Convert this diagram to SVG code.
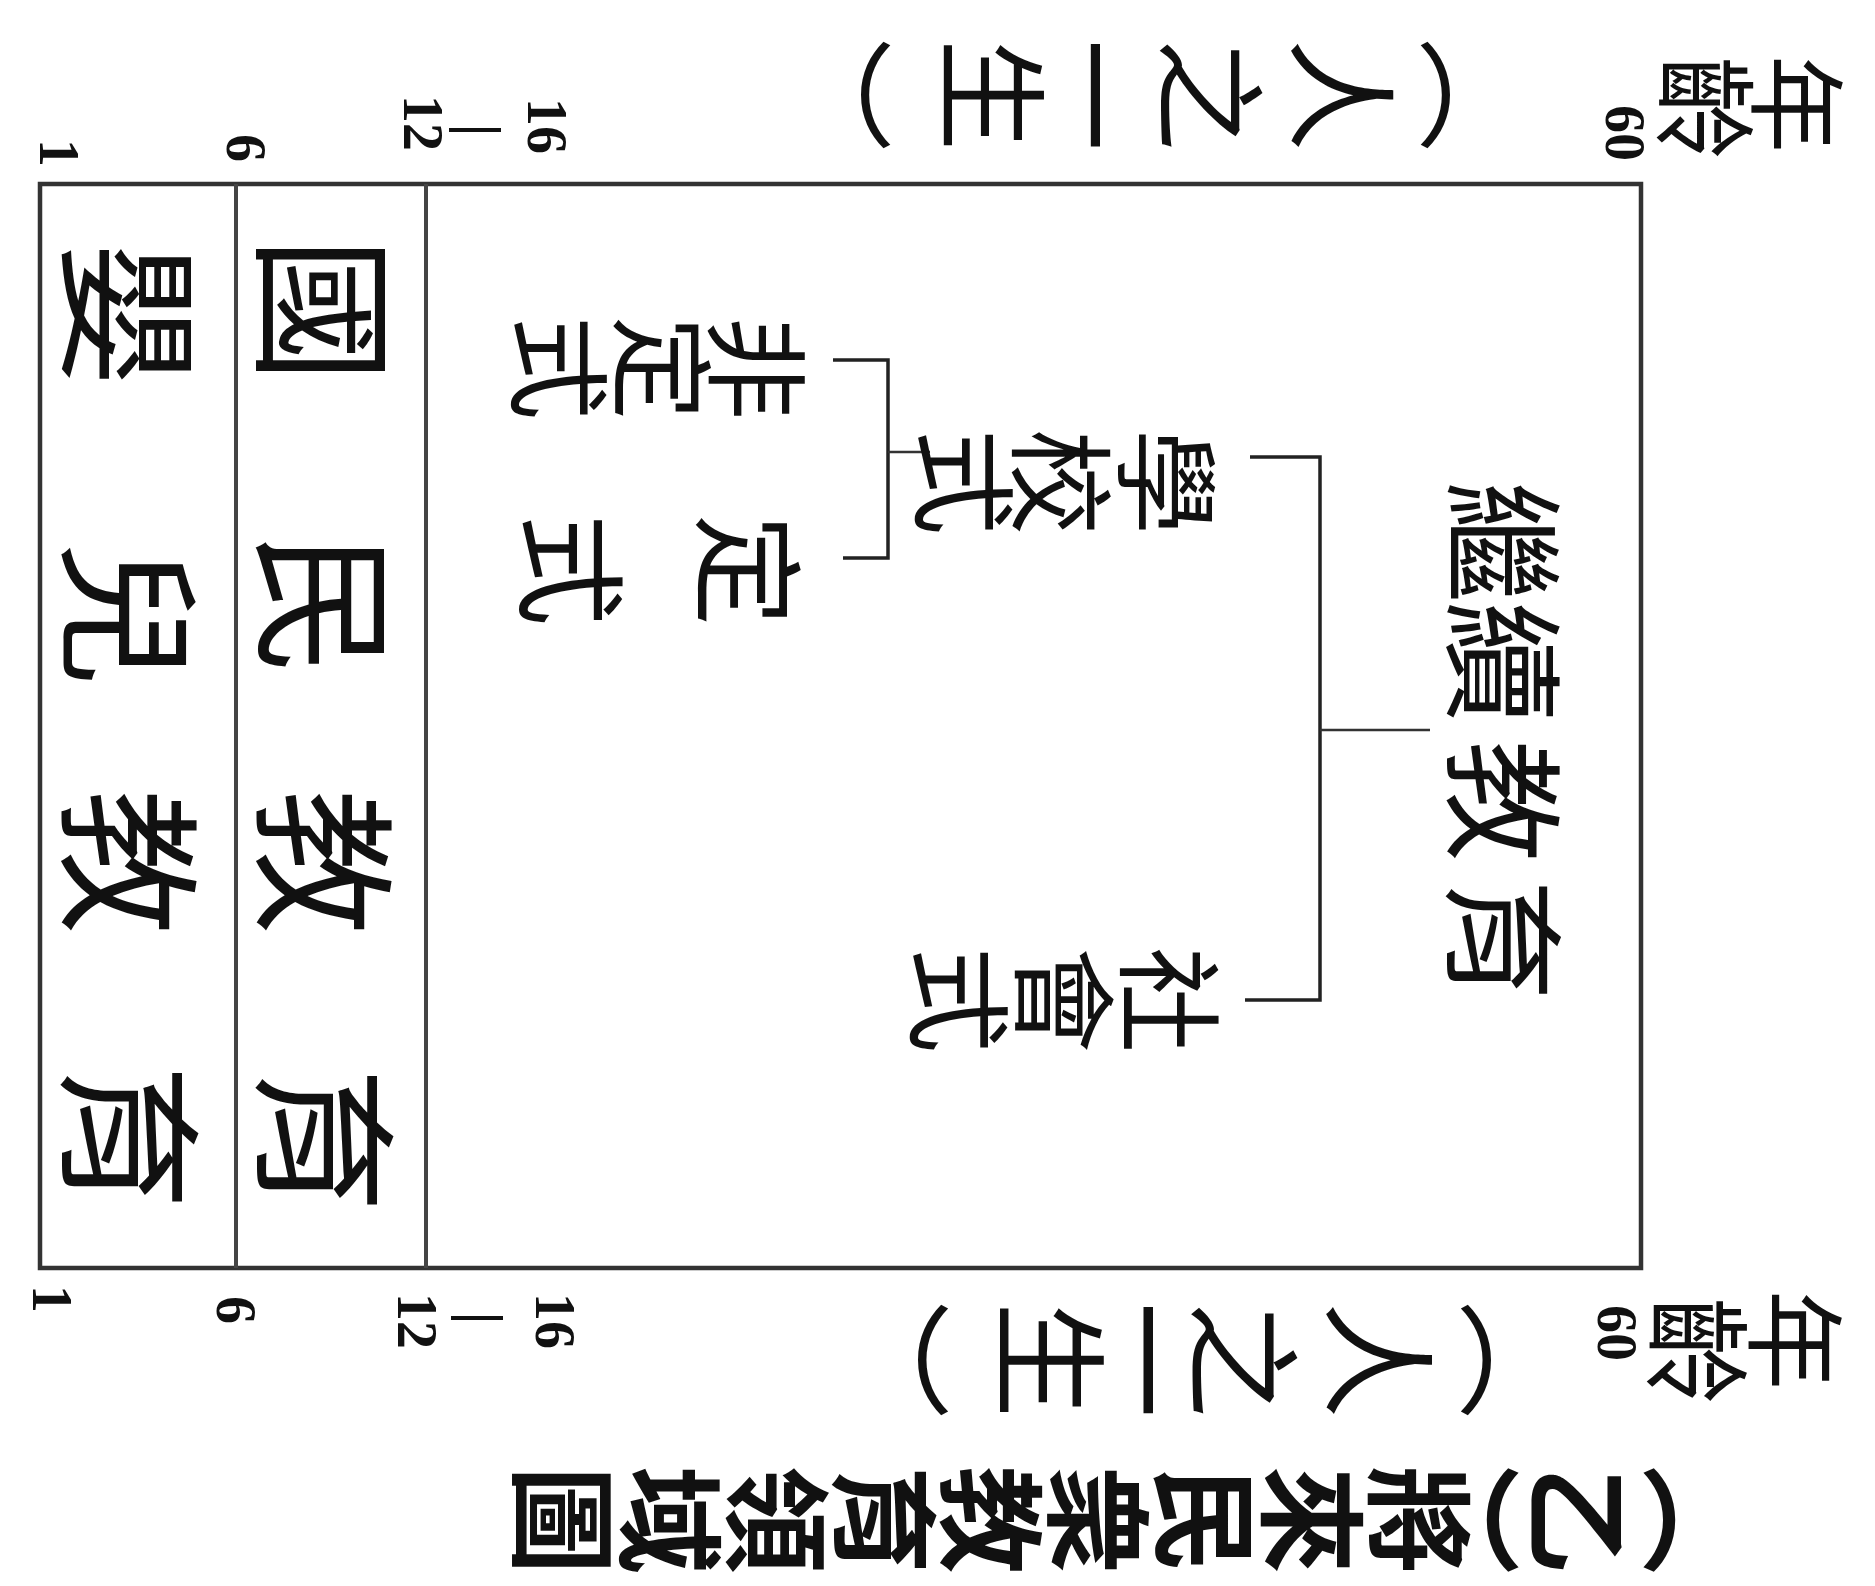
<svg xmlns="http://www.w3.org/2000/svg" width="1875" height="1586" viewBox="0 0 1875 1586">
<style>
.cjk{font-family:"Noto Sans CJK TC","Noto Sans CJK SC",sans-serif;fill:#111;text-anchor:middle;dominant-baseline:central}
.num{font-family:"Liberation Serif",serif;font-weight:bold;fill:#111;text-anchor:middle;dominant-baseline:central;font-size:56px}
.frame{fill:none;stroke:#333;stroke-width:4.5}
.band{stroke:#444;stroke-width:4}
.br{fill:none;stroke:#222;stroke-width:3.5}
.stem{fill:none;stroke:#333;stroke-width:2.5}
</style>
<rect width="1875" height="1586" fill="#fff"/>
<g id="page" transform="translate(1875,0) rotate(90)">
  <g id="frame">
    <rect class="frame" x="184" y="234" width="1084" height="1601"/>
    <line class="band" x1="184" y1="1449" x2="1268" y2="1449"/>
    <line class="band" x1="184" y1="1639" x2="1268" y2="1639"/>
  </g>
  <g id="axis-left">
    <text class="cjk" x="104 108" y="72 164"><tspan font-size="98">年</tspan><tspan font-size="104">齡</tspan></text>
    <text class="num" x="133" y="250">60</text>
    <text class="cjk" font-size="112" x="95 95 95 95 95 95" y="397 527 659 775 877 1030">︵人之一生︶</text>
    <text class="num" x="126" y="1328">16</text>
    <text class="num" font-size="46" x="130" y="1395">|</text>
    <text class="num" x="123" y="1452">12</text>
    <text class="num" x="148" y="1629">6</text>
    <text class="num" x="153" y="1816">1</text>
  </g>
  <g id="axis-right">
    <text class="cjk" x="1340 1351" y="74 172"><tspan font-size="100">年</tspan><tspan font-size="108">齡</tspan></text>
    <text class="num" x="1333" y="258">60</text>
    <text class="cjk" font-size="116" x="1360 1360 1360 1360 1360 1360" y="354 489 625 721 818 973">︵人之一生︶</text>
    <text class="num" x="1321" y="1320">16</text>
    <text class="num" font-size="46" x="1318" y="1393">|</text>
    <text class="num" x="1321" y="1458">12</text>
    <text class="num" x="1310" y="1639">6</text>
    <text class="num" x="1299" y="1823">1</text>
  </g>
  <g id="connectors">
    <path class="br" d="M457,625 V555 H1000 V630"/>
    <path class="stem" d="M730,555 V445"/>
    <path class="br" d="M360,1042 V987 H558 V1032"/>
    <path class="stem" d="M452,987 V945"/>
  </g>
  <g id="node-continuing">
    <text class="cjk" font-size="122" x="542 662 801 940" y="365 365 365 365">繼續教育</text>
  </g>
  <g id="node-school">
    <text class="cjk" font-size="106" x="482 482 482" y="702 808 905">學校式</text>
  </g>
  <g id="node-social">
    <text class="cjk" font-size="106" x="1000 1000 1000" y="700 805 910">社會式</text>
  </g>
  <g id="node-nonformal">
    <text class="cjk" font-size="104" x="368 368 368" y="1113 1208 1311">非定式</text>
  </g>
  <g id="node-formal">
    <text class="cjk" font-size="112" x="570 570" y="1121 1298">定式</text>
  </g>
  <g id="node-national">
    <text class="cjk" font-size="146" x="310 605 862 1140" y="1543 1543 1543 1543">國民教育</text>
  </g>
  <g id="node-infant">
    <text class="cjk" font-size="146" x="314 614 862 1137" y="1738 1738 1738 1738">嬰兒教育</text>
  </g>
  <g id="title">
    <text class="cjk" font-size="108" font-weight="bold" x="1520 1520 1520 1520 1520 1520 1520 1520 1520 1520 1520 1520" y="176 291 400 450 557 664 771 878 985 1092 1199 1306">︵乙︶將來民衆教育領域圖</text>
  </g>
</g>
</svg>
